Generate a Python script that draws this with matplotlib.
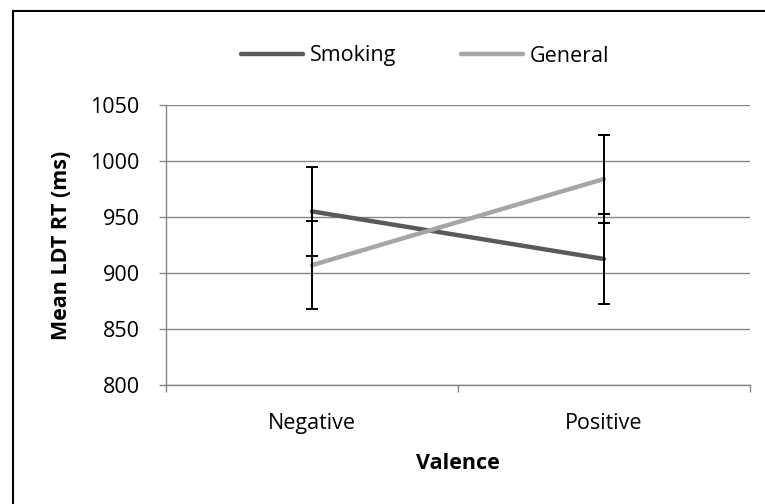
import matplotlib
matplotlib.use("Agg")
import matplotlib.pyplot as plt
from matplotlib.lines import Line2D

categories = ["Negative", "Positive"]
smoking = [955, 912.5]
smoking_err = [40, 40]
general = [907, 984]
general_err = [39, 39]
yticks = [800, 850, 900, 950, 1000, 1050]

plt.rcParams['font.family'] = ['Open Sans', 'DejaVu Sans']
FS = 15.5

fig = plt.figure(figsize=(7.65, 5.04), dpi=100)
W, H = 765, 504
ax = fig.add_axes([166 / W, 1 - 385 / H, (750 - 166) / W, (385 - 105) / H])

x = list(range(len(categories)))
grid_c = "#868686"

ax.plot(x, smoking, color="#595959", lw=3.2, solid_capstyle="round", zorder=3, label="Smoking")
ax.plot(x, general, color="#A6A6A6", lw=3.2, solid_capstyle="round", zorder=3, label="General")
ax.errorbar(x, smoking, yerr=smoking_err, fmt="none", ecolor="black", elinewidth=1.4,
            capsize=4.5, capthick=1.4, zorder=4)
ax.errorbar(x, general, yerr=general_err, fmt="none", ecolor="black", elinewidth=1.4,
            capsize=4.5, capthick=1.4, zorder=4)

ax.set_xlim(-0.5, len(categories) - 0.5)
ax.set_ylim(800, 1050)
ax.set_yticks(yticks)
ax.set_yticklabels([str(v) for v in yticks], fontsize=FS)
ax.set_xticks(x)
ax.set_xticklabels(categories, fontsize=FS)
ax.set_xticks([-0.5, 0.5, 1.5], minor=True)
ax.tick_params(axis="x", which="major", length=0, pad=20)
ax.tick_params(axis="x", which="minor", length=5, color=grid_c, width=1)
ax.tick_params(axis="y", length=5, color=grid_c, width=1, pad=14)

ax.grid(axis="y", color=grid_c, lw=1)
ax.set_axisbelow(True)
for s in ["top", "right"]:
    ax.spines[s].set_visible(False)
for s in ["left", "bottom"]:
    ax.spines[s].set_color(grid_c)
    ax.spines[s].set_linewidth(1)

ax.set_xlabel("Valence", fontsize=FS, fontweight="bold", labelpad=14)
ax.set_ylabel("Mean LDT RT (ms)", fontsize=FS, fontweight="bold", labelpad=13)

handles = [Line2D([], [], color="#595959", lw=3.2, solid_capstyle="round"),
           Line2D([], [], color="#A6A6A6", lw=3.2, solid_capstyle="round")]
fig.legend(handles, ["Smoking", "General"], loc="center", bbox_to_anchor=(425 / W, 1 - 56 / H),
           ncol=2, frameon=False, fontsize=FS, handlelength=2.9, handletextpad=0.3,
           columnspacing=3.0)

# figure border (top and left)
fig.add_artist(Line2D([13 / W, 13 / W], [0, 1 - 11 / H], transform=fig.transFigure, color="black", lw=1.5))
fig.add_artist(Line2D([13 / W, 1], [1 - 11 / H, 1 - 11 / H], transform=fig.transFigure, color="black", lw=1.5))

fig.savefig("out.png", dpi=100)
